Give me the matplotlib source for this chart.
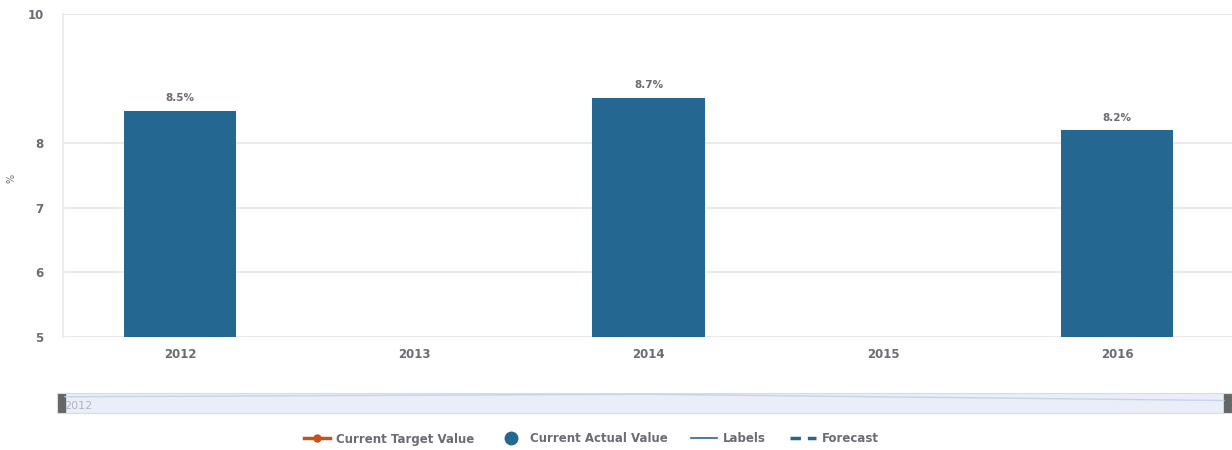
import numpy as np
import matplotlib.pyplot as plt
from matplotlib.lines import Line2D

# chart data
years = ['2012', '2013', '2014', '2015', '2016']
actual = [8.5, np.nan, 8.7, np.nan, 8.2]
bar_labels = ['8.5%', '', '8.7%', '', '8.2%']
y_ticks = [5, 6, 7, 8, 10]

bar_color = '#246790'
text_color = '#6b6b72'
grid_color = '#e6e6e6'

fig = plt.figure(figsize=(12.32, 4.5), dpi=100)
ax = fig.add_axes([63 / 1232, 1 - 337 / 450, (1232 - 63) / 1232, (337 - 14) / 450])

x = np.arange(len(years))
vals = np.array(actual)
mask = ~np.isnan(vals)
bars = ax.bar(x[mask], vals[mask] - 5, bottom=5, width=0.48, color=bar_color, zorder=3)
for xi, v, lab in zip(x, vals, bar_labels):
    if lab:
        ax.text(xi, v + 0.12, lab, ha='center', va='bottom', fontsize=7.5,
                fontweight='bold', color=text_color)

ax.set_xlim(-0.5, 4.49)
ax.set_ylim(5, 10)
ax.set_yticks(y_ticks)
ax.set_xticks(x)
ax.set_xticklabels(years)
ax.tick_params(axis='both', length=0, labelsize=8.5, labelcolor=text_color)
ax.tick_params(axis='x', pad=8)
ax.tick_params(axis='y', pad=14)
for lab in ax.get_xticklabels() + ax.get_yticklabels():
    lab.set_fontweight('bold')
ax.grid(axis='y', color=grid_color, linewidth=1.2, zorder=0)
for s in ['top', 'right', 'bottom']:
    ax.spines[s].set_visible(False)
ax.spines['left'].set_color('#ececec')
ax.spines['left'].set_linewidth(1.5)
ax.set_ylabel('%', fontsize=7, color=text_color)
ax.yaxis.set_label_coords(-0.04, 0.49)

# navigator strip
nav = fig.add_axes([57 / 1232, 1 - 413 / 450, (1232 - 57) / 1232, 20 / 450])
nav.set_facecolor('#e9eef8')
nav.plot(x[mask], vals[mask], color='#c9d3e6', linewidth=1)
nav.set_xlim(-0.028, 4.028)
nav.set_ylim(7.2, 8.8)
nav.set_xticks([])
nav.set_yticks([])
for s in nav.spines.values():
    s.set_color('#d6dbe6')
nav.axvspan(-0.028, 0.0, color='#666666')
nav.axvspan(4.0, 4.028, color='#666666')
nav.text(0.006, 0.35, years[0], transform=nav.transAxes, fontsize=8,
         color='#b0b4bc', va='center')

# legend
handles = [
    Line2D([], [], color='#c0561d', linewidth=2.5, marker='o', markersize=5),
    Line2D([], [], color=bar_color, linestyle='none', marker='o', markersize=9),
    Line2D([], [], color=bar_color, linewidth=1.2),
    Line2D([], [], color=bar_color, linewidth=2.5, linestyle=(0, (3, 2))),
]
names = ['Current Target Value', 'Current Actual Value', 'Labels', 'Forecast']
leg = fig.legend(handles, names, loc='center', bbox_to_anchor=(0.48, 1 - 439 / 450),
                 ncol=4, frameon=False, fontsize=8.5, handlelength=2.2,
                 columnspacing=2.0, handletextpad=0.5)
for t in leg.get_texts():
    t.set_color(text_color)
    t.set_fontweight('bold')

fig.savefig('out.png', dpi=100)
